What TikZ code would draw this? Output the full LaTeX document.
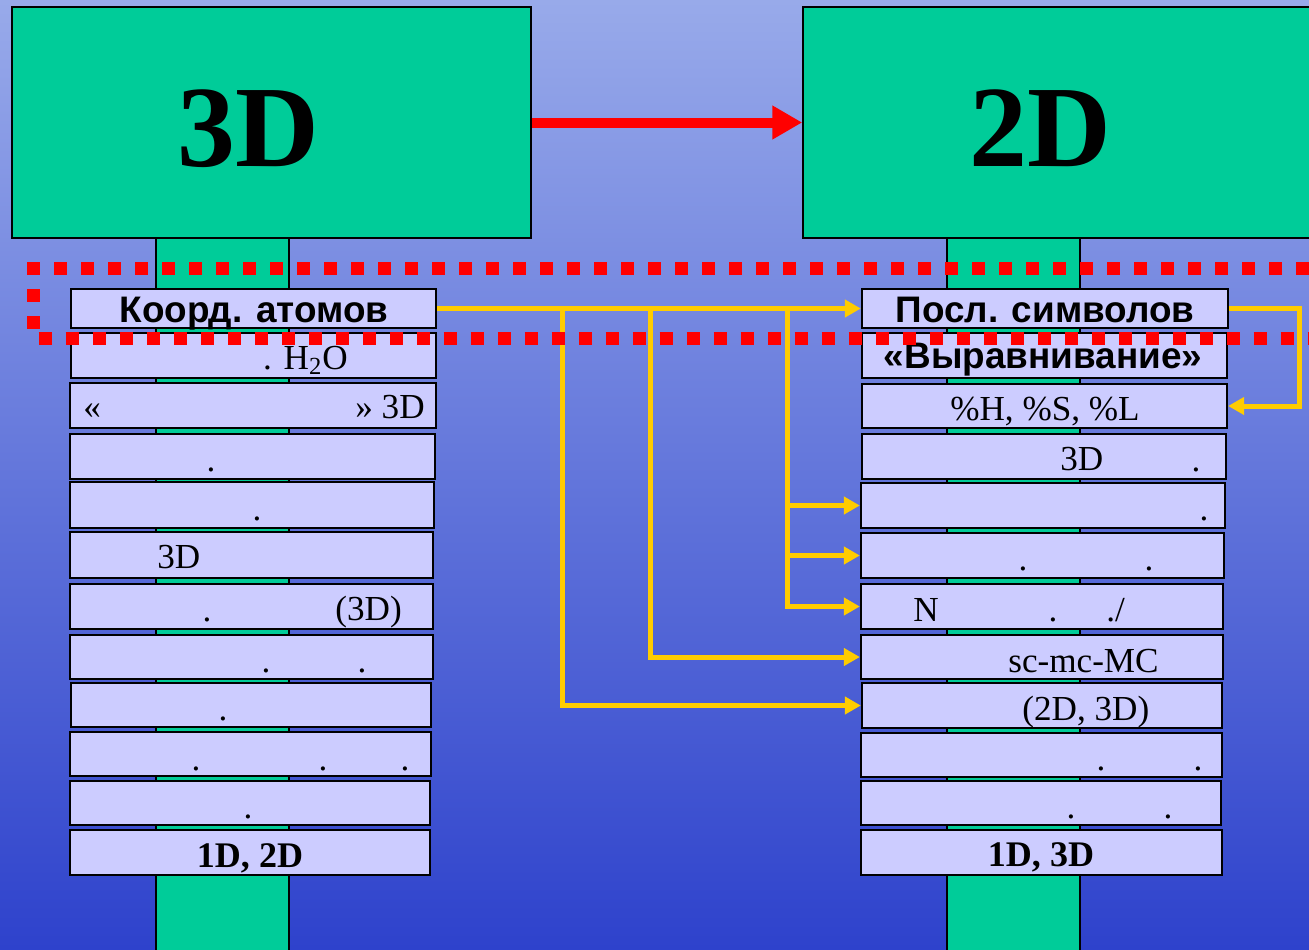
\documentclass[tikz,border=0pt]{standalone}
\usepackage{fontspec}
\setmainfont{Liberation Serif}
\setsansfont{Liberation Sans}
\usetikzlibrary{arrows.meta}
\definecolor{fonTop}{HTML}{98AAEA}
\definecolor{fonBot}{HTML}{2E42CC}
\definecolor{zelenGA}{HTML}{00CC99}
\definecolor{lilaGA}{HTML}{CCCCFF}
\definecolor{zheltGA}{HTML}{FFCC00}

\begin{document}
\begin{tikzpicture}[x=0.2mm,y=-0.2mm,>=Stealth,
  bigbox/.style={draw=black,line width=0.3mm,fill=zelenGA,inner sep=0},
  rowbox/.style={draw=black,line width=0.45mm,fill=lilaGA,inner sep=0},
  txt/.style={inner sep=0,anchor=base,font=\fontsize{20}{22}\selectfont},
  txtb/.style={txt,font=\fontsize{20.5}{22}\selectfont\bfseries},
  sans/.style={txt,font=\fontsize{21}{23}\selectfont\sffamily\bfseries},
  ylink/.style={zheltGA,line width=1mm,-{Triangle[length=3.2mm,width=3.4mm]}},
  rdots/.style={red,line width=2.6mm,dash pattern=on 2.6mm off 2.8mm}]
  \clip[use as bounding box] (0,0) rectangle (1309,949);
  \shade[top color=fonTop,bottom color=fonBot] (0,0) rectangle (1309,949);
  % stems
  \draw[bigbox] (156,238) rectangle (289,960);
  \draw[bigbox] (947,238) rectangle (1080,960);
  % 3D -> 2D
  \node[bigbox,minimum width={519*0.2mm},minimum height={231*0.2mm}] (box3d) at (271.5,122.5) {};
  \node[bigbox,minimum width={512*0.2mm},minimum height={231*0.2mm}] (box2d) at (1059,122.5) {};
  \node[inner sep=0,anchor=base,font=\fontsize{66}{68}\selectfont\bfseries] (t3d) at (248,166) {3D};
  \node[inner sep=0,anchor=base,font=\fontsize{66}{68}\selectfont\bfseries] (t2d) at (1040,166) {2D};
  \draw[red,line width=2mm,-{Triangle[length=6mm,width=6.4mm]}] (box3d.east) -- (box2d.west);
  % left column
  \foreach \n/\t/\b/\l/\r in {1/289/328/71/436,2/333/378/71/436,3/383/428/70/436,
      4/434/479/70/435,5/482/528/70/434,6/532/578/70/433,7/584/629/70/433,
      8/635/679/70/433,9/683/727/71/431,10/732/776/70/431,11/781/825/70/430,12/830/875/70/430}
    \node[rowbox,minimum width={(\r-\l)*0.2mm},minimum height={(\b-\t)*0.2mm}] (L\n) at ({(\l+\r)/2},{(\t+\b)/2}) {};
  % right column
  \foreach \n/\t/\b/\l/\r in {1/289/328/862/1228,2/333/378/862/1227,3/384/428/862/1227,
      4/434/479/862/1226,5/483/528/861/1225,6/533/578/861/1224,7/584/629/861/1223,
      8/635/679/861/1223,9/683/728/862/1222,10/733/777/861/1222,11/781/825/861/1221,12/830/875/861/1222}
    \node[rowbox,minimum width={(\r-\l)*0.2mm},minimum height={(\b-\t)*0.2mm}] (R\n) at ({(\l+\r)/2},{(\t+\b)/2}) {};
  % texts
  \node[sans] (tL1) at (254,322) {Коорд. атомов};
  \node[txt,anchor=base east] (tL2) at (348,369) {. H\textsubscript{2}O};
  \node[txt,anchor=base west] (tL3a) at (83,418) {«};
  \node[txt,anchor=base east] (tL3b) at (425,418) {» 3D};
  \node[txt,anchor=base west] (tL6) at (157,568) {3D};
  \node[txt,anchor=base west] (tL7) at (335,620) {(3D)};
  \node[txtb] (tL12) at (250,867) {1D, 2D};
  \node[sans] (tR1) at (1045,322) {Посл. символов};
  \node[sans] (tR2) at (1043,368) {«Выравнивание»};
  \node[txt] (tR3) at (1045,420) {\%H, \%S, \%L};
  \node[txt,anchor=base west] (tR4) at (1060,470) {3D};
  \node[txt,anchor=base west] (tR7a) at (913,621) {N};
  \node[txt,anchor=base west] (tR7b) at (1106,621) {./};
  \node[txt,anchor=base west] (tR8) at (1008,672) {sc-mc-MC};
  \node[txt,anchor=base west] (tR9) at (1022,720) {(2D, 3D)};
  \node[txtb] (tR12) at (1041,866) {1D, 3D};
  \foreach \x/\y [count=\i] in {211/471,257/520,207/621,266/672,362/672,223/720,
      196/770,323/770,405/770,248/818,1196/471,1204/520,1023/570,1149/570,
      1053/621,1101/770,1198/770,1071/818,1168/818}
    \node[txt] (dot\i) at (\x,\y) {.};
  % yellow links
  \draw[ylink] (L1.east) -- (R1.west);
  \draw[ylink] (L1.east) ++(125,0) |- (R9.west);
  \draw[ylink] (L1.east) ++(213,0) |- (R8.west);
  \draw[ylink] (L1.east) ++(350,0) |- (R7.west);
  \draw[ylink] (L1.east) ++(350,0) |- (R6.west);
  \draw[ylink] (L1.east) ++(350,0) |- (R5.west);
  \draw[ylink] (R1.east) -- ++(70,0) |- (R3.east);
  % red dotted frame
  \draw[rdots] (27,268) -- (1330,268);
  \draw[rdots] (33.5,289) -- (33.5,338) -- (1330,338);
\end{tikzpicture}
\end{document}
